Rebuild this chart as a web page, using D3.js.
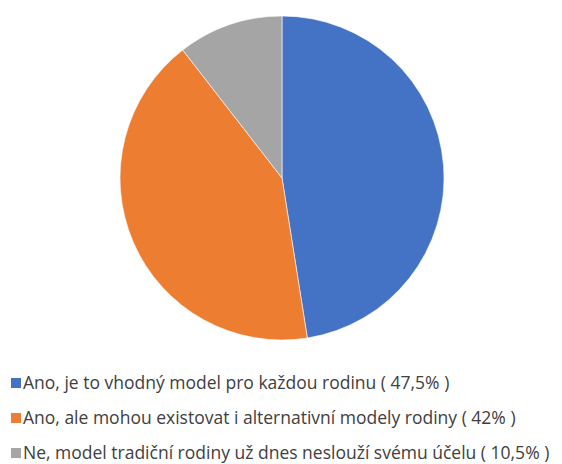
<!DOCTYPE html>
<html>
<head>
<meta charset="utf-8">
<script src="https://cdn.jsdelivr.net/npm/d3@7"></script>
<style>
  body { margin: 0; background: #fff; }
  text { font-family: "Open Sans", "Noto Sans", sans-serif; }
</style>
</head>
<body>
<div id="chart"></div>
<script>
// Chart data
var labels = [
    'Ano, je to vhodný model pro každou rodinu ( 47,5% )',
    'Ano, ale mohou existovat i alternativní modely rodiny ( 42% )',
    'Ne, model tradiční rodiny už dnes neslouží svému účelu ( 10,5% )'
];
var values = [47.5, 42, 10.5];
var colors = ['#4472c4', '#ed7d31', '#a5a5a5'];

var svgWidth = 562;
var svgHeight = 464;

var svg = d3.select('#chart')
    .append('svg')
    .attr('width', svgWidth)
    .attr('height', svgHeight);

var data = labels.map(function(l, i) {
    return { label: l, value: values[i], color: colors[i] };
});

// Pie
var pie = d3.pie()
    .sort(null)
    .value(d => d.value);

var arc = d3.arc()
    .innerRadius(0)
    .outerRadius(162);

var pieGroup = svg.append('g')
    .attr('transform', 'translate(282, 178)');

pieGroup.selectAll('path')
    .data(pie(data))
    .enter()
    .append('path')
    .attr('d', arc)
    .attr('fill', d => d.data.color)
    .attr('stroke', '#ffffff')
    .attr('stroke-width', 0.6);

// Legend
var legendY = d3.scalePoint()
    .domain(labels)
    .range([383, 453]);

var legend = svg.append('g');

var items = legend.selectAll('g')
    .data(data)
    .enter()
    .append('g')
    .attr('transform', d => `translate(0, ${legendY(d.label)})`);

items.append('rect')
    .attr('x', 11)
    .attr('y', -5)
    .attr('width', 10)
    .attr('height', 10)
    .attr('fill', d => d.color);

items.append('text')
    .attr('x', 23)
    .attr('y', 0)
    .attr('dy', '0.35em')
    .attr('font-size', 17.5)
    .attr('fill', '#404040')
    .text(d => d.label);
</script>
</body>
</html>
